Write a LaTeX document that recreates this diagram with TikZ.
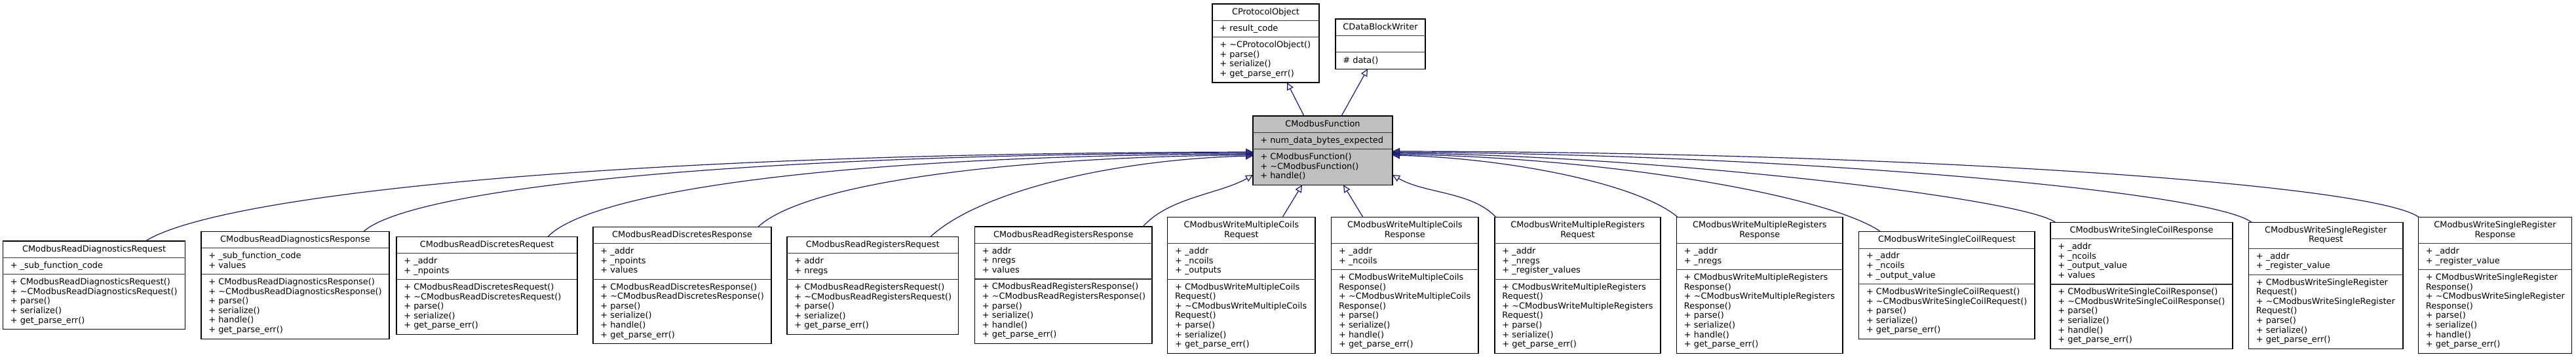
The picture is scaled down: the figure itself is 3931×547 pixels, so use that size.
\documentclass[tikz,border=0pt]{standalone}
\usepackage{fontspec}
\setmainfont{DejaVu Sans}
\usetikzlibrary{arrows.meta,calc}
\definecolor{mblue}{RGB}{25,25,112}
\definecolor{fgray}{RGB}{191,191,191}
\newcommand\LH{14.6}
\newcommand\PD{10.8}
\newcommand\TOFF{5.6}
\newcommand\XPAD{11}
\newcommand\tild{\textasciitilde}
\tikzset{
  classbox/.style={draw=black, line width=0.6pt, anchor=north west, inner sep=0pt, outer sep=0pt},
  sepline/.style={draw=black!80, line width=0.6pt},
  titletext/.style={anchor=north, align=center, inner sep=0pt, font=\fontsize{6.45}{7.3}\selectfont, execute at begin node=\strut},
  membertext/.style={anchor=north west, align=left, inner sep=0pt, font=\fontsize{6.45}{7.3}\selectfont, execute at begin node=\strut},
  inherit/.style={draw=mblue, line width=0.6pt, -{Triangle[open,length=5.5pt,width=5.2pt]}},
}
\newcommand\umlclass[8]{%
  \pgfmathsetmacro\uL{#2}\pgfmathsetmacro\uR{#3}\pgfmathsetmacro\uT{#4}%
  \pgfmathsetmacro\uA{#4+#5*\LH+\PD}%
  \pgfmathsetmacro\uB{\uA+#6*\LH+\PD}%
  \pgfmathsetmacro\uE{\uB+#7*\LH+\PD}%
  \pgfmathsetmacro\uW{(#3-#2)*0.5}%
  \pgfmathsetmacro\uH{(\uE-#4)*0.5}%
  \node[classbox, fill=#8, minimum width=\uW pt, minimum height=\uH pt] (#1) at (\uL,\uT) {};
  \draw[sepline] (\uL,\uA) -- (\uR,\uA) (\uL,\uB) -- (\uR,\uB);
}
\newcommand\umltexts[4]{%
  \node[titletext] (#1-t) at ({(\uL+\uR)/2},\uT+\TOFF) {#2};
  \node[membertext] (#1-a) at (\uL+\XPAD,\uA+\TOFF) {#3};
  \node[membertext] (#1-m) at (\uL+\XPAD,\uB+\TOFF) {#4};
}
\begin{document}
\begin{tikzpicture}[x=0.5pt,y=-0.5pt]
\useasboundingbox (0,0) rectangle (3931,547);
\fill[white] (0,0) rectangle (3931,547);

% top classes
\umlclass{po}{1850}{2013}{6}{1}{1}{4}{white}
\umltexts{po}{CProtocolObject}{+ result\_code}{+ \tild CProtocolObject()\\+ parse()\\+ serialize()\\+ get\_parse\_err()}
\umlclass{dbw}{2038}{2175}{29}{1}{1}{1}{white}
\umltexts{dbw}{CDataBlockWriter}{}{\# data()}
\umlclass{mf}{1912}{2125}{177}{1}{1}{3}{fgray}
\umltexts{mf}{CModbusFunction}{+ num\_data\_bytes\_expected}{+ CModbusFunction()\\+ \tild CModbusFunction()\\+ handle()}

% bottom row
\umlclass{rdq}{4.5}{282.6}{368}{1}{1}{5}{white}
\umltexts{rdq}{CModbusReadDiagnosticsRequest}{+ \_sub\_function\_code}{+ CModbusReadDiagnosticsRequest()\\+ \tild CModbusReadDiagnosticsRequest()\\+ parse()\\+ serialize()\\+ get\_parse\_err()}
\umlclass{rds}{307}{594}{353.3}{1}{2}{6}{white}
\umltexts{rds}{CModbusReadDiagnosticsResponse}{+ \_sub\_function\_code\\+ values}{+ CModbusReadDiagnosticsResponse()\\+ \tild CModbusReadDiagnosticsResponse()\\+ parse()\\+ serialize()\\+ handle()\\+ get\_parse\_err()}
\umlclass{rxq}{605}{881}{361.3}{1}{2}{5}{white}
\umltexts{rxq}{CModbusReadDiscretesRequest}{+ \_addr\\+ \_npoints}{+ CModbusReadDiscretesRequest()\\+ \tild CModbusReadDiscretesRequest()\\+ parse()\\+ serialize()\\+ get\_parse\_err()}
\umlclass{rxs}{905}{1177}{346.3}{1}{3}{6}{white}
\umltexts{rxs}{CModbusReadDiscretesResponse}{+ \_addr\\+ \_npoints\\+ values}{+ CModbusReadDiscretesResponse()\\+ \tild CModbusReadDiscretesResponse()\\+ parse()\\+ serialize()\\+ handle()\\+ get\_parse\_err()}
\umlclass{rrq}{1201}{1462.5}{361.3}{1}{2}{5}{white}
\umltexts{rrq}{CModbusReadRegistersRequest}{+ addr\\+ nregs}{+ CModbusReadRegistersRequest()\\+ \tild CModbusReadRegistersRequest()\\+ parse()\\+ serialize()\\+ get\_parse\_err()}
\umlclass{rrs}{1487.5}{1758}{346}{1}{3}{6}{white}
\umltexts{rrs}{CModbusReadRegistersResponse}{+ addr\\+ nregs\\+ values}{+ CModbusReadRegistersResponse()\\+ \tild CModbusReadRegistersResponse()\\+ parse()\\+ serialize()\\+ handle()\\+ get\_parse\_err()}
\umlclass{wmcq}{1781.7}{2007}{331.7}{2}{3}{7}{white}
\umltexts{wmcq}{CModbusWriteMultipleCoils\\Request}{+ \_addr\\+ \_ncoils\\+ \_outputs}{+ CModbusWriteMultipleCoils\\Request()\\+ \tild CModbusWriteMultipleCoils\\Request()\\+ parse()\\+ serialize()\\+ get\_parse\_err()}
\umlclass{wmcs}{2031.7}{2256}{331.7}{2}{2}{8}{white}
\umltexts{wmcs}{CModbusWriteMultipleCoils\\Response}{+ \_addr\\+ \_ncoils}{+ CModbusWriteMultipleCoils\\Response()\\+ \tild CModbusWriteMultipleCoils\\Response()\\+ parse()\\+ serialize()\\+ handle()\\+ get\_parse\_err()}
\umlclass{wmrq}{2281}{2534}{331.7}{2}{3}{7}{white}
\umltexts{wmrq}{CModbusWriteMultipleRegisters\\Request}{+ \_addr\\+ \_nregs\\+ \_register\_values}{+ CModbusWriteMultipleRegisters\\Request()\\+ \tild CModbusWriteMultipleRegisters\\Request()\\+ parse()\\+ serialize()\\+ get\_parse\_err()}
\umlclass{wmrs}{2558.5}{2812}{331.7}{2}{2}{8}{white}
\umltexts{wmrs}{CModbusWriteMultipleRegisters\\Response}{+ \_addr\\+ \_nregs}{+ CModbusWriteMultipleRegisters\\Response()\\+ \tild CModbusWriteMultipleRegisters\\Response()\\+ parse()\\+ serialize()\\+ handle()\\+ get\_parse\_err()}
\umlclass{wscq}{2836.6}{3105}{353.7}{1}{3}{5}{white}
\umltexts{wscq}{CModbusWriteSingleCoilRequest}{+ \_addr\\+ \_ncoils\\+ \_output\_value}{+ CModbusWriteSingleCoilRequest()\\+ \tild CModbusWriteSingleCoilRequest()\\+ parse()\\+ serialize()\\+ get\_parse\_err()}
\umlclass{wscs}{3129}{3407}{339.3}{1}{4}{6}{white}
\umltexts{wscs}{CModbusWriteSingleCoilResponse}{+ \_addr\\+ \_ncoils\\+ \_output\_value\\+ values}{+ CModbusWriteSingleCoilResponse()\\+ \tild CModbusWriteSingleCoilResponse()\\+ parse()\\+ serialize()\\+ handle()\\+ get\_parse\_err()}
\umlclass{wsrq}{3431.5}{3667}{339.3}{2}{2}{7}{white}
\umltexts{wsrq}{CModbusWriteSingleRegister\\Request}{+ \_addr\\+ \_register\_value}{+ CModbusWriteSingleRegister\\Request()\\+ \tild CModbusWriteSingleRegister\\Request()\\+ parse()\\+ serialize()\\+ get\_parse\_err()}
\umlclass{wsrs}{3690.5}{3924.4}{331.7}{2}{2}{8}{white}
\umltexts{wsrs}{CModbusWriteSingleRegister\\Response}{+ \_addr\\+ \_register\_value}{+ CModbusWriteSingleRegister\\Response()\\+ \tild CModbusWriteSingleRegister\\Response()\\+ parse()\\+ serialize()\\+ handle()\\+ get\_parse\_err()}

% inheritance edges to parents of CModbusFunction
\draw[inherit] ($(mf.north west)+(78,0)$) -- ($(po.south west)+(114,0)$);
\draw[inherit] ($(mf.north west)+(135,0)$) -- ($(dbw.south west)+(49,0)$);

% left group
\draw[inherit] ($(rdq.north west)+(217.5,0)$) .. controls (330,300) and (900,234) .. ($(mf.north west)+(0,55)$);
\draw[inherit] ($(rds.north west)+(248,0)$) .. controls (625,290) and (1100,235) .. ($(mf.north west)+(0,56.5)$);
\draw[inherit] ($(rxq.north west)+(231,0)$) .. controls (905,290) and (1300,237) .. ($(mf.north west)+(0,58)$);
\draw[inherit] ($(rxs.north west)+(252,0)$) .. controls (1225,282) and (1520,240) .. ($(mf.north west)+(0,59.5)$);
\draw[inherit] ($(rrq.north west)+(219,0)$) .. controls (1495,292) and (1700,243) .. ($(mf.north west)+(0,61)$);
\draw[inherit] ($(rrs.north west)+(256.5,0)$) .. controls (1784,301) and (1862,296) .. ($(mf.north west)+(0,90)$);

% below
\draw[inherit] ($(wmcq.north west)+(175.3,0)$) -- ($(mf.south west)+(75,0)$);
\draw[inherit] ($(wmcs.north west)+(48.3,0)$) -- ($(mf.south west)+(138,0)$);

% right group
\draw[inherit] ($(wmrq.north west)+(2,0)$) .. controls (2246,292) and (2175,296) .. ($(mf.north east)+(0,90)$);
\draw[inherit] ($(wmrs.north west)+(2,0)$) .. controls (2500,280) and (2300,241) .. ($(mf.north east)+(0,60)$);
\draw[inherit] ($(wscq.north west)+(33.4,0)$) .. controls (2790,298) and (2450,240) .. ($(mf.north east)+(0,58.5)$);
\draw[inherit] ($(wscs.north west)+(7.5,0)$) .. controls (3080,300) and (2500,236) .. ($(mf.north east)+(0,57)$);
\draw[inherit] ($(wsrq.north west)+(4.5,0)$) .. controls (3370,290) and (2700,234) .. ($(mf.north east)+(0,55.5)$);
\draw[inherit] ($(wsrs.north west)+(1,0)$) .. controls (3620,280) and (2900,232) .. ($(mf.north east)+(0,54)$);
\end{tikzpicture}
\end{document}
